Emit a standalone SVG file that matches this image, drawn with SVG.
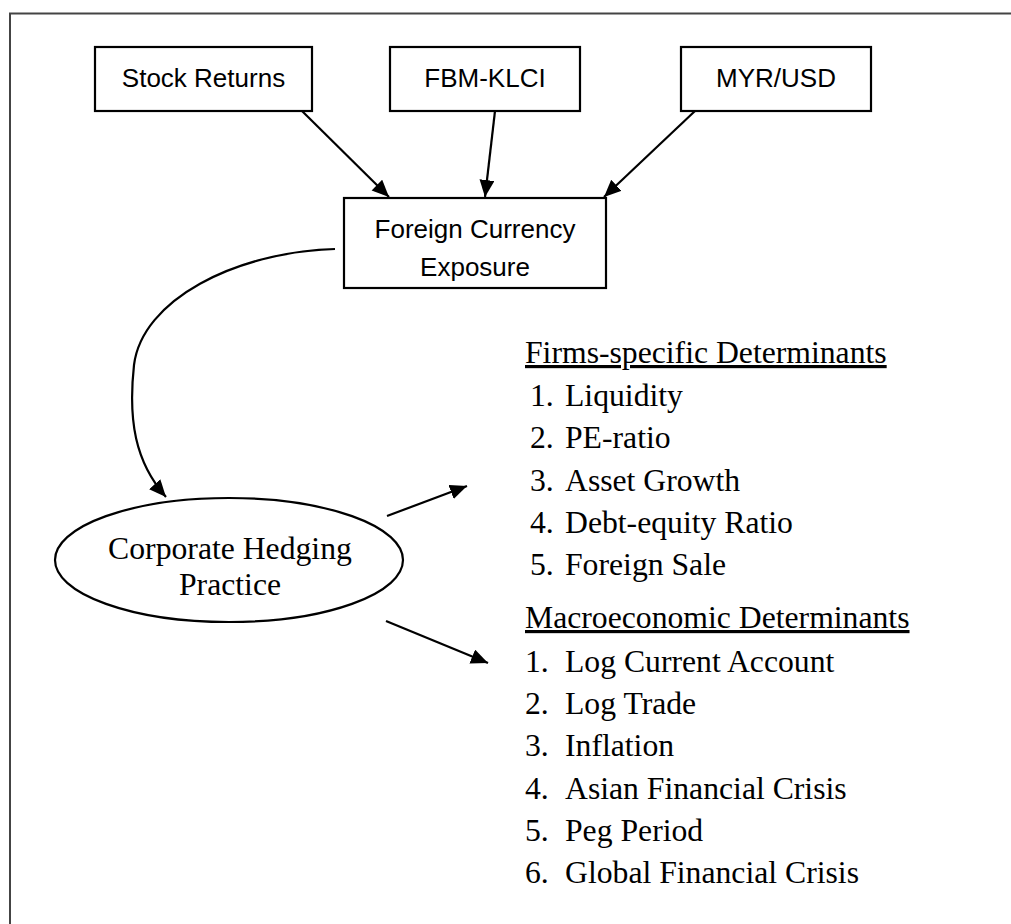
<svg xmlns="http://www.w3.org/2000/svg" width="1011" height="924" viewBox="0 0 1011 924">
<style>
.box{fill:#fff;stroke:#000;stroke-width:2.2}
.sans{font-family:"Liberation Sans",Arial,sans-serif;font-size:26px;fill:#000;text-anchor:middle}
.serif{font-family:"Liberation Serif","Times New Roman",serif;font-size:31.7px;fill:#000}
.conn{fill:none;stroke:#000;stroke-width:2.2}
</style>
<defs>
<marker id="ah" markerUnits="userSpaceOnUse" markerWidth="20" markerHeight="16" refX="17" refY="7.5" orient="auto">
<path d="M0,0 L17,7.5 L0,15 z" fill="#000"/>
</marker>
</defs>
<rect width="1011" height="924" fill="#fff"/>
<path d="M10,924 L10,13.5 L1011,13.5" fill="none" stroke="#444" stroke-width="2"/>
<g id="node-stock-returns">
<rect class="box" x="95" y="47" width="217" height="64"/>
<text class="sans" x="203.5" y="87">Stock Returns</text>
</g>
<g id="node-fbm-klci">
<rect class="box" x="390" y="47" width="190" height="64"/>
<text class="sans" x="485" y="87">FBM-KLCI</text>
</g>
<g id="node-myr-usd">
<rect class="box" x="681" y="47" width="190" height="64"/>
<text class="sans" x="776" y="87">MYR/USD</text>
</g>
<g id="node-fce">
<rect class="box" x="344" y="198" width="262" height="90"/>
<text class="sans" x="475" y="238">Foreign Currency</text>
<text class="sans" x="475" y="276">Exposure</text>
</g>
<g id="node-chp">
<ellipse cx="229" cy="560" rx="174" ry="62" fill="#fff" stroke="#000" stroke-width="2.2"/>
<text class="serif" x="230" y="559" text-anchor="middle">Corporate Hedging</text>
<text class="serif" x="230" y="595" text-anchor="middle">Practice</text>
</g>
<g id="node-firms">
<text class="serif" x="525" y="363" text-decoration="underline">Firms-specific Determinants</text>
<text class="serif" x="530" y="406">1.</text><text class="serif" x="565" y="406">Liquidity</text>
<text class="serif" x="530" y="448">2.</text><text class="serif" x="565" y="448">PE-ratio</text>
<text class="serif" x="530" y="491">3.</text><text class="serif" x="565" y="491">Asset Growth</text>
<text class="serif" x="530" y="533">4.</text><text class="serif" x="565" y="533">Debt-equity Ratio</text>
<text class="serif" x="530" y="575">5.</text><text class="serif" x="565" y="575">Foreign Sale</text>
</g>
<g id="node-macro">
<text class="serif" x="525" y="628" text-decoration="underline">Macroeconomic Determinants</text>
<text class="serif" x="525" y="672">1.</text><text class="serif" x="565" y="672">Log Current Account</text>
<text class="serif" x="525" y="714">2.</text><text class="serif" x="565" y="714">Log Trade</text>
<text class="serif" x="525" y="756">3.</text><text class="serif" x="565" y="756">Inflation</text>
<text class="serif" x="525" y="799">4.</text><text class="serif" x="565" y="799">Asian Financial Crisis</text>
<text class="serif" x="525" y="841">5.</text><text class="serif" x="565" y="841">Peg Period</text>
<text class="serif" x="525" y="883">6.</text><text class="serif" x="565" y="883">Global Financial Crisis</text>
</g>
<g id="connectors">
<path class="conn" d="M302,111 L389,197" marker-end="url(#ah)"/>
<path class="conn" d="M495,111 L485,197" marker-end="url(#ah)"/>
<path class="conn" d="M695,111 L604,197" marker-end="url(#ah)"/>
<path class="conn" d="M335,249 C235,252 142,300 134,365 C128,420 135,462 166,497" marker-end="url(#ah)"/>
<path class="conn" d="M387,516 L467,486" marker-end="url(#ah)"/>
<path class="conn" d="M386,621 L488,663" marker-end="url(#ah)"/>
</g>
</svg>
